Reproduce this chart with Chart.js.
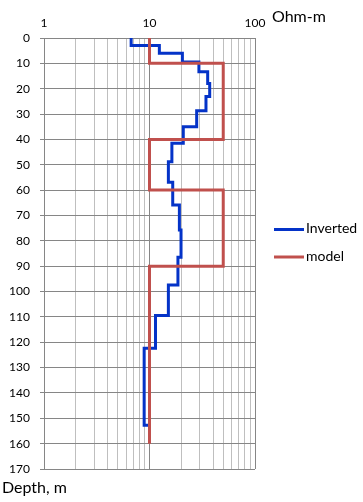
<!DOCTYPE html>
<html>
<head>
<meta charset="utf-8">
<script src="https://cdn.jsdelivr.net/npm/chart.js@4"></script>
<style>
  body { margin: 0; background: #fff; }
  canvas { display: block; }
</style>
</head>
<body>
<canvas id="myChart" width="363" height="502"></canvas>
<script>
// layer tops / resistivity (Ohm-m)
var invDepths = [0, 3, 6, 9.5, 13.3, 17.9, 23.1, 28.7, 35, 41.5, 48.8, 56.9, 65.9, 75.7, 86.5, 97.4, 109.5, 122.4, 152.7];
var invRes = [6.7, 12.4, 20.5, 29.4, 35.6, 37.2, 34.3, 28.0, 20.9, 16.3, 15.1, 16.6, 19.2, 19.9, 18.6, 15.1, 11.4, 8.9, 10];
var modelDepths = [0, 10, 40, 60, 90, 160];
var modelRes = [10, 50, 10, 50, 10];

var xTickValues = [1, 2, 3, 4, 5, 6, 7, 8, 9, 10, 20, 30, 40, 50, 60, 70, 80, 90, 100];
var xTickLabels = [1, 10, 100];

// turn layers into step points
function steps(depths, res) {
  var pts = [];
  for (var i = 0; i < depths.length - 1; i++) {
    pts.push({ x: res[i], y: depths[i] });
    pts.push({ x: res[i], y: depths[i + 1] });
  }
  if (res.length >= depths.length) {
    pts.push({ x: res[depths.length - 1], y: depths[depths.length - 1] });
  }
  return pts;
}

const FONT = "Lato, 'Liberation Sans', sans-serif";

//legend + axis titles
const extras = {
  id: "extras",
  afterDraw(chart) {
    const ctx = chart.ctx;
    ctx.save();
    ctx.fillStyle = "#000";
    ctx.textBaseline = "middle";
    ctx.textAlign = "left";
    ctx.font = "16px " + FONT;
    ctx.fillText("Ohm-m", 272, 17);
    ctx.fillText("Depth, m", 2, 488);

    ctx.font = "14px " + FONT;
    var ys = [229.5, 257];
    chart.data.datasets.forEach((ds, i) => {
      ctx.strokeStyle = ds.borderColor;
      ctx.lineWidth = 3;
      ctx.beginPath();
      ctx.moveTo(274, ys[i]);
      ctx.lineTo(304, ys[i]);
      ctx.stroke();
      ctx.fillStyle = "#000";
      ctx.fillText(ds.label, 306, ys[i] - 1);
    });
    ctx.restore();
  },
};

const ctx = document.getElementById("myChart");

const config = {
  type: "scatter",
  data: {
    datasets: [
      {
        label: "Inverted",
        data: steps(invDepths, invRes),
        showLine: true,
        borderColor: "#0433C8",
        backgroundColor: "#0433C8",
        borderWidth: 3,
        pointRadius: 0,
        borderJoinStyle: "miter",
        order: 1,
      },
      {
        label: "model",
        data: steps(modelDepths, modelRes),
        showLine: true,
        borderColor: "#C0504D",
        backgroundColor: "#C0504D",
        borderWidth: 3,
        pointRadius: 0,
        borderJoinStyle: "miter",
        order: 0,
      },
    ],
  },
  options: {
    responsive: false,
    animation: false,
    layout: { padding: { left: 0, top: 0, right: 108, bottom: 33 } },
    plugins: {
      legend: { display: false },
      tooltip: { enabled: false },
    },
    scales: {
      x: {
        type: "logarithmic",
        position: "top",
        min: 1,
        max: 100,
        afterBuildTicks(scale) {
          scale.ticks = xTickValues.map((v) => ({ value: v, major: xTickLabels.includes(v) }));
        },
        afterFit(scale) {
          scale.height = 38;
        },
        ticks: {
          autoSkip: false,
          maxRotation: 0,
          padding: 8,
          color: "#000",
          font: { family: FONT, size: 12 },
          callback: (v) => (xTickLabels.includes(v) ? String(v) : ""),
        },
        grid: {
          drawTicks: false,
          color: (c) => (c.tick && xTickLabels.includes(c.tick.value) ? "#868686" : "#bfbfbf"),
        },
        border: { color: "#868686" },
      },
      y: {
        type: "linear",
        reverse: true,
        min: 0,
        max: 170,
        afterFit(scale) {
          scale.width = 44;
        },
        ticks: {
          stepSize: 10,
          padding: 10,
          color: "#000",
          font: { family: FONT, size: 12 },
        },
        grid: {
          color: "#868686",
          tickLength: 4,
        },
        border: { color: "#868686" },
      },
    },
  },
  plugins: [extras],
};

var chart = new Chart(ctx, config);
</script>
</body>
</html>
